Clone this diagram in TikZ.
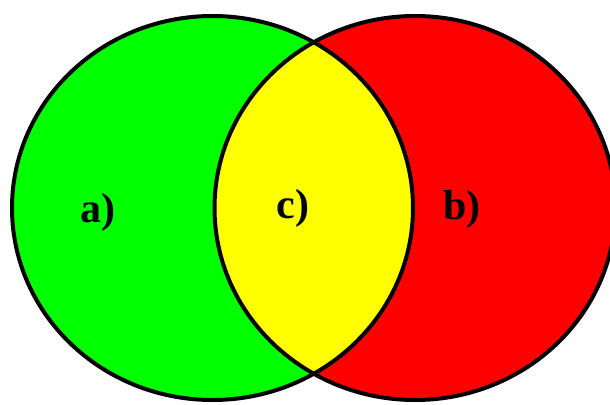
\documentclass[tikz,border=0pt]{standalone}
\usepackage{fontspec}
\setmainfont{Liberation Serif}
\definecolor{vgreen}{HTML}{00FF00}
\definecolor{vred}{HTML}{FF0000}
\definecolor{vyellow}{HTML}{FFFF00}
\tikzset{
  outline/.style={draw=black, line width=4pt},
  lbl/.style={font=\bfseries\fontsize{42}{42}\selectfont, inner sep=0pt},
}
\begin{document}
\begin{tikzpicture}[x=1pt,y=-1pt]
  \useasboundingbox (0,0) rectangle (610,404);
  \clip (0,0) rectangle (610,404);
  \fill[vgreen] (212.5,208) ellipse [x radius=200.5, y radius=192];
  \fill[vred] (415,208) ellipse [x radius=200.5, y radius=192];
  \begin{scope}
    \clip (212.5,208) ellipse [x radius=200.5, y radius=192];
    \fill[vyellow] (415,208) ellipse [x radius=200.5, y radius=192];
  \end{scope}
  \draw[outline] (212.5,208) ellipse [x radius=200.5, y radius=192];
  \draw[outline] (415,208) ellipse [x radius=200.5, y radius=192];
  \node[lbl] (a) at (98,212) {a)};
  \node[lbl] (c) at (293,208) {c)};
  \node[lbl] (b) at (462,209) {b)};
\end{tikzpicture}
\end{document}
